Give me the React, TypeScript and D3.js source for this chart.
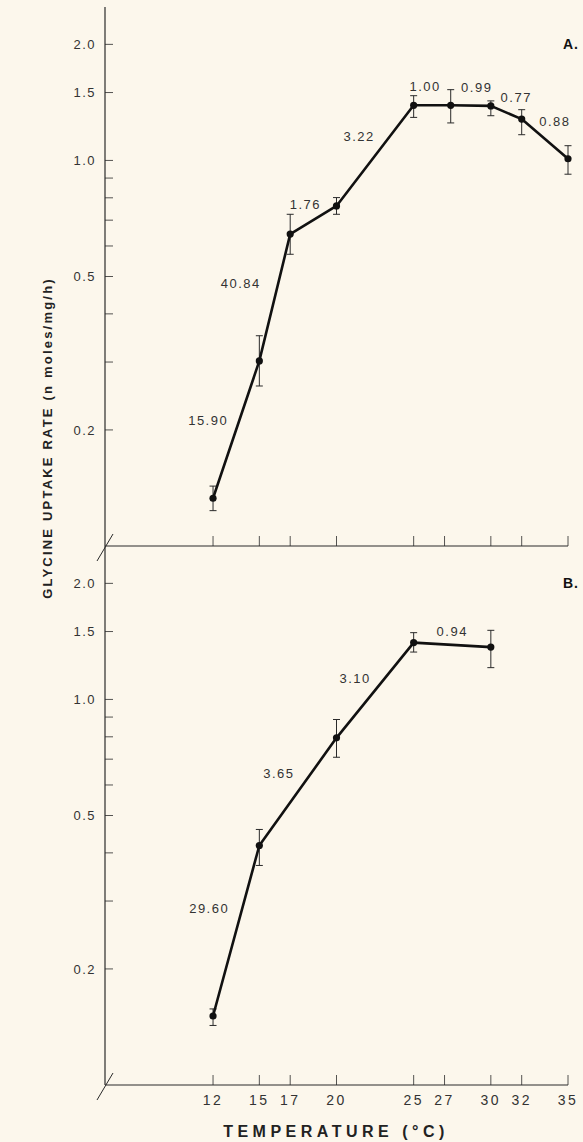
import React from "react";
import * as d3 from "d3";

// ---------- data ----------
const X_TICKS = [12, 15, 17, 20, 25, 27, 30, 32, 35];
const Y_TICKS = [0.2, 0.3, 0.4, 0.5, 0.6, 0.7, 0.8, 0.9, 1.0, 1.5, 2.0];
const Y_LABELS = [0.2, 0.5, 1.0, 1.5, 2.0];

// Panel A
const TEMP_A = [12, 15, 17, 20, 25, 27.4, 30, 32, 35];
const RATE_A = [0.133, 0.302, 0.644, 0.762, 1.39, 1.39, 1.385, 1.28, 1.01];
const LOW_A = [0.1235, 0.26, 0.571, 0.725, 1.293, 1.251, 1.306, 1.166, 0.921];
const HIGH_A = [0.143, 0.351, 0.725, 0.801, 1.472, 1.526, 1.427, 1.354, 1.092];
const Q10_A = ["15.90", "40.84", "1.76", "3.22", "1.00", "0.99", "0.77", "0.88"];

// Panel B
const TEMP_B = [12, 15, 20, 25, 30];
const RATE_B = [0.151, 0.418, 0.795, 1.404, 1.367];
const LOW_B = [0.1427, 0.371, 0.708, 1.327, 1.209];
const HIGH_B = [0.1575, 0.46, 0.887, 1.49, 1.511];
const Q10_B = ["29.60", "3.65", "3.10", "0.94"];

// ---------- layout ----------
const W = 583;
const H = 1142;
const X0 = 105;
const X1 = 568;
const BG = "#fcf7ec";
const INK = "#2a2a2a";
const OFFS_A = [
  [-28, -9],
  [-34, -14],
  [-8, -16],
  [-16, -19],
  [-7, -19],
  [6, -18],
  [10, -15],
  [10, -18],
];
const OFFS_B = [
  [-27, -22],
  [-19, -18],
  [-20, -12],
  [0, -14],
];

const x = d3.scaleLinear().domain([5, 35]).range([X0, X1]);

type PanelProps = {
  top: number;
  bottom: number;
  temps: number[];
  rates: number[];
  lows: number[];
  highs: number[];
  q10: string[];
  offs: number[][];
  letter: string;
  showXLabels: boolean;
};

function Panel(p: PanelProps) {
  const y = d3.scaleLog().domain([0.1, 2.5]).range([p.bottom, p.top]);
  const pts = p.temps.map((t, i) => [x(t), y(p.rates[i])] as [number, number]);
  const line = d3.line()(pts) || "";
  return (
    <g>
      {/* y axis */}
      <line x1={X0} x2={X0} y1={p.top} y2={p.bottom} stroke={INK} strokeWidth={1.2} />
      {Y_TICKS.map((v) => (
        <line key={"yt" + v} x1={X0} x2={X0 + 8} y1={y(v)} y2={y(v)} stroke={INK} strokeWidth={0.8} />
      ))}
      {Y_LABELS.map((v) => (
        <text
          key={"yl" + v}
          x={X0 - 9}
          y={y(v)}
          dy="0.36em"
          textAnchor="end"
          fontSize={13}
          letterSpacing={1.5}
          fill="#333"
          fontFamily="'Liberation Sans', Arial, sans-serif"
        >
          {v.toFixed(1)}
        </text>
      ))}
      {/* x axis */}
      <line x1={X0} x2={X1} y1={p.bottom} y2={p.bottom} stroke={INK} strokeWidth={1.2} />
      {X_TICKS.map((t) => (
        <line key={"xt" + t} x1={x(t)} x2={x(t)} y1={p.bottom} y2={p.bottom - 10} stroke={INK} strokeWidth={0.8} />
      ))}
      {p.showXLabels &&
        X_TICKS.map((t) => (
          <text
            key={"xl" + t}
            x={x(t)}
            y={p.bottom + 15}
            dy="0.36em"
            textAnchor="middle"
            fontSize={14}
            letterSpacing={2.5}
            fill="#333"
            fontFamily="'Liberation Sans', Arial, sans-serif"
          >
            {t}
          </text>
        ))}
      {/* axis break slash */}
      <line x1={X0 - 8} x2={X0 + 8} y1={p.bottom + 15} y2={p.bottom - 12} stroke={INK} strokeWidth={1} />
      {/* error bars */}
      {p.temps.map((t, i) => (
        <g key={"eb" + i} stroke={INK} strokeWidth={1}>
          <line x1={x(t)} x2={x(t)} y1={y(p.lows[i])} y2={y(p.highs[i])} />
          <line x1={x(t) - 3.5} x2={x(t) + 3.5} y1={y(p.lows[i])} y2={y(p.lows[i])} />
          <line x1={x(t) - 3.5} x2={x(t) + 3.5} y1={y(p.highs[i])} y2={y(p.highs[i])} />
        </g>
      ))}
      {/* data line */}
      <path d={line} fill="none" stroke="#111" strokeWidth={2.6} strokeLinejoin="round" />
      {pts.map((pt, i) => (
        <circle key={"pt" + i} cx={pt[0]} cy={pt[1]} r={3.6} fill="#111" />
      ))}
      {/* Q10 labels */}
      {p.q10.map((s, i) => {
        const mx = (pts[i][0] + pts[i + 1][0]) / 2 + p.offs[i][0];
        const my = (pts[i][1] + pts[i + 1][1]) / 2 + p.offs[i][1];
        return (
          <text
            key={"q" + i}
            x={mx}
            y={my}
            dy="0.36em"
            textAnchor="middle"
            fontSize={13}
            letterSpacing={1.5}
            fill="#333"
            fontFamily="'Liberation Sans', Arial, sans-serif"
          >
            {s}
          </text>
        );
      })}
      <text
        x={571}
        y={y(2.0)}
        dy="0.36em"
        textAnchor="middle"
        fontSize={14}
        fontWeight="bold"
        letterSpacing={1}
        fill="#111"
        fontFamily="'Liberation Sans', Arial, sans-serif"
      >
        {p.letter}
      </text>
    </g>
  );
}

export default function App() {
  return (
    <svg
      width={W}
      height={H}
      style={{ position: "absolute", left: 0, top: 0, background: BG }}
    >
      <rect x={0} y={0} width={W} height={H} fill={BG} />
      <Panel
        top={7}
        bottom={546}
        temps={TEMP_A}
        rates={RATE_A}
        lows={LOW_A}
        highs={HIGH_A}
        q10={Q10_A}
        offs={OFFS_A}
        letter="A."
        showXLabels={false}
      />
      <Panel
        top={546}
        bottom={1085}
        temps={TEMP_B}
        rates={RATE_B}
        lows={LOW_B}
        highs={HIGH_B}
        q10={Q10_B}
        offs={OFFS_B}
        letter="B."
        showXLabels={true}
      />
      <text
        x={336}
        y={1131}
        dy="0.36em"
        textAnchor="middle"
        fontSize={16}
        fontWeight="bold"
        letterSpacing={4.5}
        fill="#222"
        fontFamily="'Liberation Sans', Arial, sans-serif"
      >
        TEMPERATURE (°C)
      </text>
      <text
        transform="translate(47,438) rotate(-90)"
        dy="0.36em"
        textAnchor="middle"
        fontSize={13}
        fontWeight="bold"
        letterSpacing={2.2}
        fill="#222"
        fontFamily="'Liberation Sans', Arial, sans-serif"
      >
        GLYCINE  UPTAKE  RATE  (n moles/mg/h)
      </text>
    </svg>
  );
}
